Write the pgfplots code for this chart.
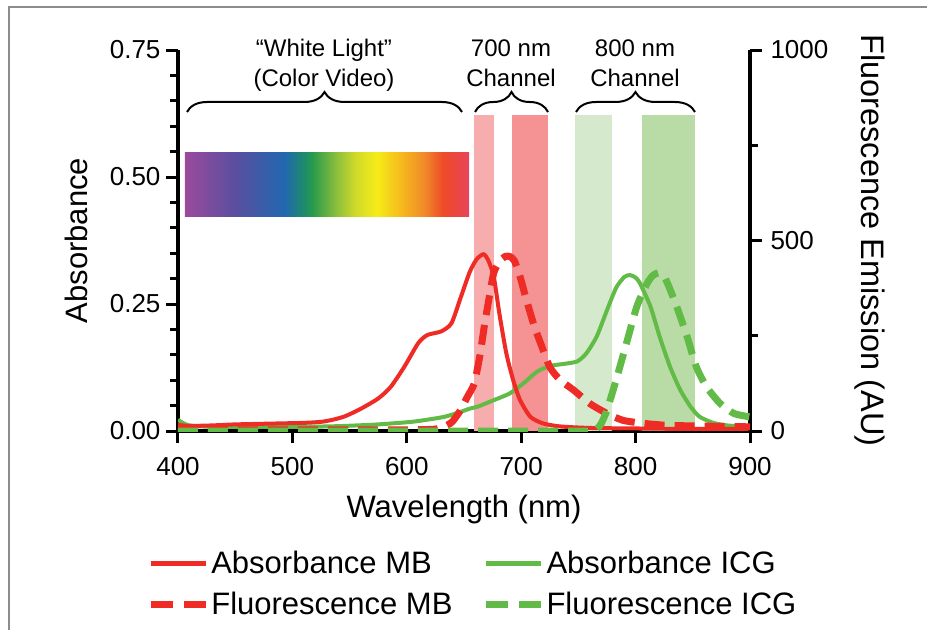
\documentclass[border=0pt]{standalone}
\usepackage{pgfplots}
\usepackage{pgfplotstable}
\pgfplotsset{compat=1.18}
\usepackage{fontspec}
\setmainfont{Liberation Sans}
\usetikzlibrary{decorations.pathreplacing}

\definecolor{redline}{HTML}{EE2B25}
\definecolor{greenline}{HTML}{62BB47}
\definecolor{bandRa}{HTML}{F7ADAE}
\definecolor{bandRb}{HTML}{F49294}
\definecolor{bandGa}{HTML}{D5EACC}
\definecolor{bandGb}{HTML}{B9DBA5}
\definecolor{sp0}{HTML}{9B4A9C}
\definecolor{sp1}{HTML}{594FA0}
\definecolor{sp2}{HTML}{2168B0}
\definecolor{sp3}{HTML}{1E8C6A}
\definecolor{sp4}{HTML}{2A9B4A}
\definecolor{sp5}{HTML}{88BE3E}
\definecolor{sp6}{HTML}{D0DA2A}
\definecolor{sp7}{HTML}{F5EC18}
\definecolor{sp8}{HTML}{F6B41E}
\definecolor{sp9}{HTML}{F08C28}
\definecolor{sp10}{HTML}{EE4A28}
\definecolor{sp11}{HTML}{E8445A}
\pgfdeclarehorizontalshading{spectrum}{100bp}{color(0bp)=(sp0); color(25bp)=(sp0); color(34bp)=(sp1); color(42.5bp)=(sp2); color(46bp)=(sp3); color(47.5bp)=(sp4); color(51.5bp)=(sp5); color(55bp)=(sp6); color(58.75bp)=(sp7); color(63.5bp)=(sp8); color(67bp)=(sp9); color(70.5bp)=(sp10); color(75bp)=(sp11); color(100bp)=(sp11)}

\pgfplotstableread{
nm abs
400 0.012
410 0.010
430 0.011
450 0.013
470 0.014
490 0.015
510 0.016
525 0.018
535 0.022
546 0.029
560 0.044
575 0.064
586 0.087
598 0.127
610 0.173
618 0.189
630 0.196
639 0.212
647 0.262
655 0.313
661 0.338
667 0.348
671 0.337
676 0.304
681 0.230
687 0.153
693 0.100
699 0.061
708 0.028
719 0.015
734 0.009
760 0.006
800 0.005
850 0.004
900 0.004
}\absMB

\pgfplotstableread{
nm abs
400 0.022
405 0.015
410 0.011
420 0.009
450 0.008
500 0.008
530 0.009
546 0.010
575 0.013
604 0.018
620 0.023
633 0.028
645 0.036
655 0.044
662 0.048
673 0.058
690 0.074
702 0.094
714 0.117
725 0.128
737 0.132
749 0.137
757 0.153
766 0.186
775 0.238
783 0.282
790 0.303
795 0.307
800 0.302
804 0.290
813 0.245
821 0.186
830 0.127
839 0.081
848 0.048
856 0.028
868 0.016
880 0.011
900 0.008
}\absICG

\pgfplotstableread{
nm fl
400 10
410 5
450 3
500 3
550 3
600 3
625 5
635 15
640 25
647 55
653 90
659 125
664 200
668 280
672 350
676 415
681 445
686 458
690 458
694 447
699 405
704 350
708 309
712 270
717 230
725 168
734 134
746 107
760 72
775 46
789 28
807 20
827 15
856 13
900 11
}\flMB

\pgfplotstableread{
nm fl
400 0
500 0
600 0
700 0
760 0
766 5
770 20
775 55
783 134
792 230
801 326
810 387
815 408
820 415
825 405
829 380
836 326
845 248
853 169
862 116
874 72
886 46
900 37
}\flICG

\tikzset{
  absMBs/.style={color=redline, line width=4pt, smooth, tension=0.4},
  absICGs/.style={color=greenline, line width=4pt, smooth, tension=0.4},
  flMBs/.style={color=redline, line width=7pt, dash pattern=on 20pt off 10pt, smooth, tension=0.4},
  flICGs/.style={color=greenline, line width=7pt, dash pattern=on 20pt off 10pt, smooth, tension=0.4},
}

\pgfplotsset{
  common/.style={
    at={(0pt,0pt)}, anchor=south west,
    scale only axis, width=572pt, height=381pt,
    xmin=400, xmax=900,
    tick align=outside,
    major tick length=12pt, minor tick length=8pt,
    every tick/.style={line width=3pt, black},
    axis line style={line width=3.5pt, black},
    ticklabel style={font=\fontsize{26}{30}\selectfont},
    label style={font=\fontsize{31}{36}\selectfont},
    /pgf/number format/assume math mode=true,
    /pgf/number format/1000 sep={},
  }
}

\begin{document}
\begin{tikzpicture}
\useasboundingbox (-178pt,-199pt) rectangle (749pt,431pt);
\draw[black!45, line width=1.5pt] (-169pt,-199pt) -- (-169pt,424pt) -- (749pt,424pt);

\begin{axis}[common,
  ymin=0, ymax=0.75,
  axis x line*=bottom, axis y line*=left,
  xtick={400,500,600,700,800,900}, minor x tick num=0,
  ytick={0,0.25,0.5,0.75}, minor y tick num=4,
  yticklabel style={/pgf/number format/.cd, fixed, fixed zerofill, precision=2},
  xticklabel shift=11pt, yticklabel shift=2pt,
  xlabel={Wavelength (nm)}, ylabel={Absorbance},
  xlabel style={at={(axis description cs:0.5,-0.205)}, anchor=center},
  ylabel style={at={(axis description cs:-0.178,0.5)}, anchor=center},
]
\addplot[draw=none, fill=bandRa] coordinates {(659,0.622) (676.5,0.622)} \closedcycle;
\addplot[draw=none, fill=bandRb] coordinates {(692.3,0.622) (723.8,0.622)} \closedcycle;
\addplot[draw=none, fill=bandGa] coordinates {(747,0.622) (779,0.622)} \closedcycle;
\addplot[draw=none, fill=bandGb] coordinates {(805.6,0.622) (852.3,0.622)} \closedcycle;
\addplot[absICGs] table[x=nm, y=abs] {\absICG};
\addplot[absMBs] table[x=nm, y=abs] {\absMB};
\end{axis}

\begin{axis}[common,
  ymin=0, ymax=1000,
  axis x line=none, axis y line*=right,
  ytick={0,500,1000}, minor y tick num=1,
  yticklabel shift=5pt,
  ylabel={Fluorescence Emission (AU)},
  ylabel style={at={(axis description cs:1.2098,0.5)}, anchor=center, rotate=180, font=\fontsize{32.5}{38}\selectfont},
  legend columns=2,
  legend cell align=left,
  legend style={at={(axis description cs:-0.054,-0.31)}, anchor=north west,
    draw=none, fill=none, inner sep=0pt, row sep=13pt,
    font=\fontsize{31}{36}\selectfont,
    /tikz/every even column/.append style={column sep=28pt}},
  legend image code/.code={\draw[#1] (0pt,0pt) -- (55pt,0pt);},
]
\addlegendimage{color=redline, line width=4.5pt}
\addlegendentry{Absorbance MB}
\addlegendimage{color=greenline, line width=4.5pt}
\addlegendentry{Absorbance ICG}
\addlegendimage{color=redline, line width=7pt, dash pattern=on 22pt off 11pt}
\addlegendentry{Fluorescence MB}
\addlegendimage{color=greenline, line width=7pt, dash pattern=on 22pt off 11pt}
\addlegendentry{Fluorescence ICG}
\addplot[flMBs, forget plot] table[x=nm, y=fl] {\flMB};
\addplot[flICGs, forget plot] table[x=nm, y=fl] {\flICG};
\end{axis}

\fill[shading=spectrum] (7pt,215pt) rectangle (291pt,279pt);
\draw[decorate, decoration={brace, amplitude=20pt}, line width=2pt] (9pt,319pt) -- (284pt,319pt);
\draw[decorate, decoration={brace, amplitude=20pt}, line width=2pt] (297pt,319pt) -- (370pt,319pt);
\draw[decorate, decoration={brace, amplitude=20pt}, line width=2pt] (398pt,319pt) -- (517pt,319pt);
\begin{scope}[every node/.style={font=\fontsize{24}{28}\selectfont, inner sep=0pt, anchor=base}]
\node at (146pt,374pt) {“White Light”};
\node at (146pt,344pt) {(Color Video)};
\node at (333pt,374pt) {700 nm};
\node at (333pt,344pt) {Channel};
\node at (457pt,374pt) {800 nm};
\node at (457pt,344pt) {Channel};
\end{scope}
\end{tikzpicture}
\end{document}
